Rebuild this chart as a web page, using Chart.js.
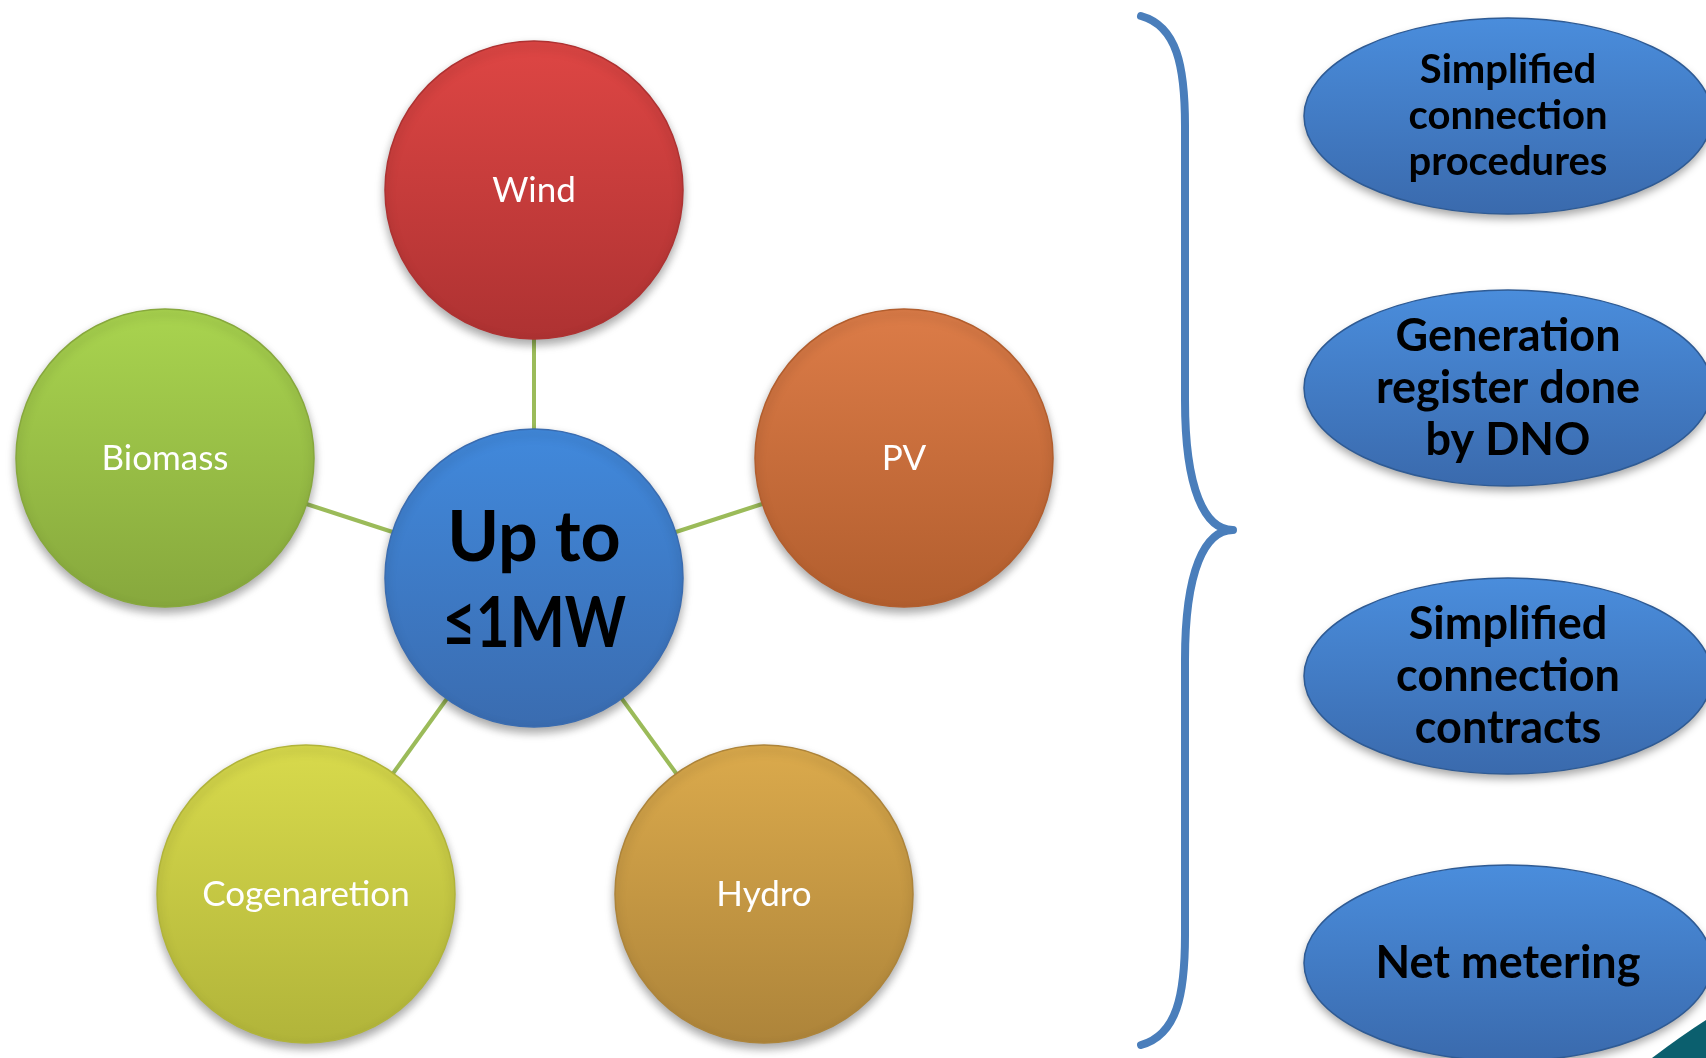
<!DOCTYPE html>
<html>
<head>
<meta charset="utf-8">
<script src="https://cdn.jsdelivr.net/npm/chart.js@4.4.1/dist/chart.umd.min.js"></script>
<style>
  html, body { margin: 0; padding: 0; background: #fff; overflow: hidden; }
  #wrap { width: 1706px; height: 1058px; position: relative; }
</style>
</head>
<body>
<div id="wrap"><canvas id="diagram"></canvas></div>
<script>
// Nós do diagrama (centro + 5 fontes)
const nodeLabels = [['Up to', '≤1MW'], ['Wind'], ['PV'], ['Hydro'], ['Cogenaretion'], ['Biomass']];
const nodeX = [534, 534, 904, 764, 306, 165];
const nodeY = [578, 190, 458, 894, 894, 458];

// Benefícios (elipses à direita)
const benefitLabels = [
  ['Simplified', 'connection', 'procedures'],
  ['Generation', 'register done', 'by DNO'],
  ['Simplified', 'connection', 'contracts'],
  ['Net metering']
];
const benefitX = [1508, 1508, 1508, 1508];
const benefitY = [116, 388, 676, 963];

// cores (topo / base do gradiente)
const nodeTop = ['#4189dc', '#de4644', '#dc7c48', '#dbaa4c', '#d8da4c', '#a9d44f'];
const nodeBottom = ['#3a6cb0', '#ae3232', '#b25e2e', '#ad843a', '#b1b43a', '#87a83d'];

const spokeColor = '#9bbb59';
const braceColor = '#4a7ebb';

// uma linha (2 pontos) por raio, do centro até cada nó
const spokeDatasets = nodeX.slice(1).map((x, i) => ({
  type: 'line',
  data: [{ x: nodeX[0], y: nodeY[0] }, { x: x, y: nodeY[i + 1] }],
  borderColor: spokeColor,
  borderWidth: 4,
  pointRadius: 0,
  clip: false,
  order: 3
}));

function vgrad(ctx, y0, y1, c0, c1) {
  const g = ctx.createLinearGradient(0, y0, 0, y1);
  g.addColorStop(0, c0);
  g.addColorStop(1, c1);
  return g;
}

const R_NODE = 149;
const RX_BEN = 204, RY_BEN = 98;
const FONT = 'Lato, "Open Sans", sans-serif';

// sombra suave nos círculos
const shadowPlugin = {
  id: 'shadow',
  beforeDatasetDraw(chart, args) {
    if (args.index === 0) {
      const ctx = chart.ctx;
      ctx.save();
      ctx.shadowColor = 'rgba(0,0,0,0.35)';
      ctx.shadowBlur = 10;
      ctx.shadowOffsetY = 5;
    }
  },
  afterDatasetDraw(chart, args) {
    if (args.index === 0) chart.ctx.restore();
  }
};

const decoPlugin = {
  id: 'deco',
  afterDatasetsDraw(chart) {
    const ctx = chart.ctx;
    const sx = chart.scales.x, sy = chart.scales.y;

    // rótulos dos círculos
    const meta = chart.getDatasetMeta(0);
    meta.data.forEach((pt, i) => {
      const lines = nodeLabels[i];
      ctx.save();
      ctx.textAlign = 'center';
      ctx.textBaseline = 'middle';
      if (i === 0) {
        ctx.fillStyle = '#000';
        ctx.font = 'bold 70px ' + FONT;
        ctx.fillText(lines[0], pt.x, pt.y - 40, 176);
        ctx.fillText(lines[1], pt.x, pt.y + 46, 184);
      } else {
        ctx.fillStyle = '#fff';
        ctx.font = '35px ' + FONT;
        ctx.fillText(lines[0], pt.x, pt.y + 1);
      }
      ctx.restore();
    });

    // canto decorativo (teal)
    const W = chart.width, H = chart.height;
    ctx.save();
    ctx.fillStyle = '#0b5f6e';
    ctx.beginPath();
    ctx.moveTo(W - 54, H);
    ctx.quadraticCurveTo(W - 25, H - 22, W, H - 38);
    ctx.lineTo(W, H);
    ctx.closePath();
    ctx.fill();
    ctx.restore();

    // elipses
    const bm = chart.getDatasetMeta(1);
    bm.data.forEach((pt, i) => {
      ctx.save();
      ctx.shadowColor = 'rgba(0,0,0,0.35)';
      ctx.shadowBlur = 8;
      ctx.shadowOffsetY = 5;
      ctx.beginPath();
      ctx.ellipse(pt.x, pt.y, RX_BEN, RY_BEN, 0, 0, Math.PI * 2);
      ctx.fillStyle = vgrad(ctx, pt.y - RY_BEN, pt.y + RY_BEN, '#4a8ddc', '#3a6aad');
      ctx.fill();
      ctx.shadowColor = 'transparent';
      ctx.lineWidth = 1.5;
      ctx.strokeStyle = '#2f5b94';
      ctx.stroke();
      ctx.restore();

      const lines = benefitLabels[i];
      const fs = i === 0 ? 40 : 45;
      const lh = i === 0 ? 46 : 52;
      ctx.save();
      ctx.fillStyle = '#000';
      ctx.font = 'bold ' + fs + 'px ' + FONT;
      ctx.textAlign = 'center';
      ctx.textBaseline = 'middle';
      const y0 = pt.y - (lines.length - 1) * lh / 2;
      lines.forEach((t, k) => ctx.fillText(t, pt.x, y0 + k * lh));
      ctx.restore();
    });

    // chave "}"
    const bx = sx.getPixelForValue(1185);
    const tipX = sx.getPixelForValue(1233);
    const topY = sy.getPixelForValue(16), midY = sy.getPixelForValue(530), botY = sy.getPixelForValue(1045);
    const lx = sx.getPixelForValue(1141);
    ctx.save();
    ctx.strokeStyle = braceColor;
    ctx.lineWidth = 8;
    ctx.lineCap = 'round';
    ctx.lineJoin = 'round';
    ctx.beginPath();
    ctx.moveTo(lx, topY);
    ctx.bezierCurveTo(bx - 8, topY + 10, bx, topY + 50, bx, topY + 110);
    ctx.lineTo(bx, midY - 130);
    ctx.bezierCurveTo(bx, midY - 40, bx + 20, midY, tipX, midY);
    ctx.bezierCurveTo(bx + 20, midY, bx, midY + 40, bx, midY + 130);
    ctx.lineTo(bx, botY - 110);
    ctx.bezierCurveTo(bx, botY - 50, bx - 8, botY - 10, lx, botY);
    ctx.stroke();
    ctx.restore();
  }
};

new Chart(document.getElementById('diagram').getContext('2d'), {
  type: 'scatter',
  data: {
    datasets: [
      {
        label: 'nodes',
        data: nodeX.map((x, i) => ({ x: x, y: nodeY[i] })),
        pointRadius: R_NODE,
        pointHoverRadius: R_NODE,
        pointBorderWidth: 1.5,
        pointBorderColor: ctx => nodeBottom[ctx.dataIndex],
        pointBackgroundColor: ctx => {
          const c = ctx.chart.ctx;
          const y = ctx.chart.scales.y.getPixelForValue(nodeY[ctx.dataIndex]);
          if (isNaN(y)) return nodeTop[ctx.dataIndex];
          return vgrad(c, y - R_NODE, y + R_NODE, nodeTop[ctx.dataIndex], nodeBottom[ctx.dataIndex]);
        },
        clip: false,
        order: 1
      },
      {
        label: 'benefits',
        data: benefitX.map((x, i) => ({ x: x, y: benefitY[i] })),
        pointRadius: 0,
        clip: false,
        order: 2
      },
      ...spokeDatasets
    ]
  },
  options: {
    responsive: true,
    maintainAspectRatio: false,
    animation: false,
    events: [],
    layout: { padding: 0, autoPadding: false },
    plugins: { legend: { display: false }, tooltip: { enabled: false } },
    scales: {
      x: { type: 'linear', min: 0, max: 1706, display: false },
      y: { type: 'linear', min: 0, max: 1058, reverse: true, display: false }
    }
  },
  plugins: [shadowPlugin, decoPlugin]
});
</script>
</body>
</html>
